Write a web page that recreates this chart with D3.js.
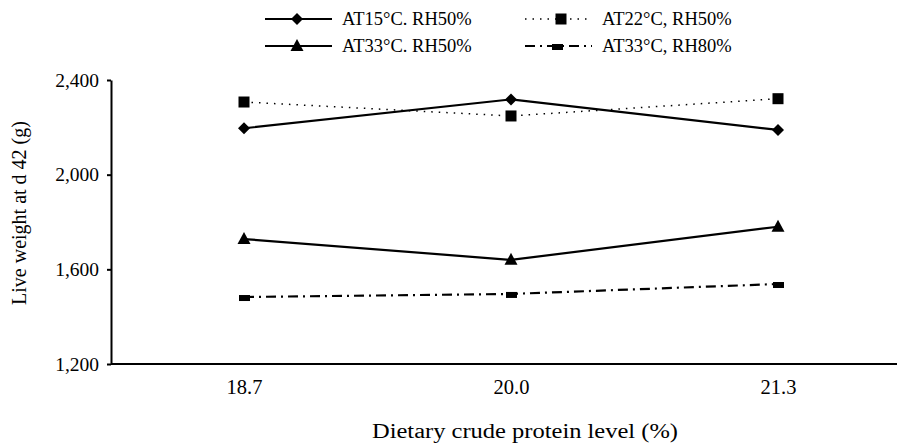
<!DOCTYPE html>
<html><head><meta charset="utf-8">
<script src="https://cdn.jsdelivr.net/npm/d3@7"></script>
<style>body{margin:0;background:#fff}svg text{font-family:"Liberation Serif","Times New Roman",serif !important;fill:#000}</style>
</head><body><svg id="c" width="897" height="445"></svg>
<script>
const categories = ["18.7", "20.0", "21.3"];
const yTicks = [1200, 1600, 2000, 2400];
const seriesNames = ["AT15°C. RH50%", "AT22°C, RH50%", "AT33°C. RH50%", "AT33°C, RH80%"];
const at15rh50 = [2196, 2318, 2189];
const at22rh50 = [2307, 2248, 2321];
const at33rh50 = [1728, 1640, 1780];
const at33rh80 = [1483, 1496, 1538];

const svg = d3.select("#c");
const margin = {left: 111, top: 80, bottom: 364};
const x = d3.scalePoint().domain(categories).range([244, 778]);
const y = d3.scaleLinear().domain([1200, 2400]).range([margin.bottom, margin.top]);

const SERIF = "Liberation Serif";
// axes
const yAxis = svg.append("g").attr("transform", `translate(${margin.left},0)`)
  .call(d3.axisLeft(y).tickValues(yTicks).tickFormat(d3.format(",")).tickSize(4).tickSizeOuter(0))
  .attr("font-family", SERIF);
yAxis.select(".domain").attr("stroke-width", 2);
yAxis.selectAll(".tick line").attr("stroke-width", 2);
yAxis.selectAll(".tick text").attr("font-size", 19.5).attr("x", -12);

const xAxis = svg.append("g").attr("transform", `translate(0,${margin.bottom})`)
  .call(d3.axisBottom(x).tickSize(0).tickSizeOuter(0))
  .attr("font-family", SERIF);
xAxis.select(".domain").attr("d", `M${margin.left},0H900`).attr("stroke-width", 2);
xAxis.selectAll(".tick text").attr("font-size", 20.5).attr("y", 30).attr("dy", 0);

svg.append("text").attr("transform", "translate(26,213) rotate(-90)").attr("text-anchor", "middle")
  .attr("font-size", 20).text("Live weight at d 42 (g)");
svg.append("text").attr("x", 372).attr("y", 438)
  .attr("font-size", 20).attr("textLength", 306).attr("lengthAdjust", "spacingAndGlyphs")
  .text("Dietary crude protein level (%)");

const series = [
  {name: seriesNames[0], values: at15rh50, dash: null, w: 2.2, sym: "diamond"},
  {name: seriesNames[1], values: at22rh50, dash: "1.5,6", w: 1.5, sym: "square"},
  {name: seriesNames[2], values: at33rh50, dash: null, w: 2.2, sym: "triangle"},
  {name: seriesNames[3], values: at33rh80, dash: "10,5,2,5", w: 2.2, sym: "rect"}
];

function drawMarker(g, sym, cx, cy) {
  if (sym === "diamond") g.append("path").attr("d", `M${cx},${cy-6}L${cx+6},${cy}L${cx},${cy+6}L${cx-6},${cy}Z`);
  else if (sym === "square") g.append("rect").attr("x", cx-5.5).attr("y", cy-5.5).attr("width", 11).attr("height", 11);
  else if (sym === "triangle") g.append("path").attr("d", `M${cx},${cy-7}L${cx+6.5},${cy+5}L${cx-6.5},${cy+5}Z`);
  else g.append("rect").attr("x", cx-5).attr("y", cy-2).attr("width", 11).attr("height", 6);
}

const line = d3.line().x((d, i) => x(categories[i])).y(d => y(d));
series.forEach(s => {
  svg.append("path").attr("d", line(s.values)).attr("fill", "none").attr("stroke", "#000")
    .attr("stroke-width", s.w).attr("stroke-dasharray", s.dash);
  const g = svg.append("g").attr("fill", "#000");
  s.values.forEach((v, i) => drawMarker(g, s.sym, x(categories[i]), y(v)));
});

// legend
const legendPos = [[265, 19], [525, 19], [265, 46], [525, 46]];
series.forEach((s, i) => {
  const [lx, ly] = legendPos[i];
  svg.append("line").attr("x1", lx).attr("x2", lx + 67).attr("y1", ly).attr("y2", ly)
    .attr("stroke", "#000").attr("stroke-width", s.w).attr("stroke-dasharray", s.dash);
  const g = svg.append("g").attr("fill", "#000");
  drawMarker(g, s.sym, lx + (i === 1 ? 36 : 32), ly);
  svg.append("text").attr("x", lx + 77).attr("y", ly + 6).attr("font-size", 18.5).text(s.name);
});
</script></body></html>
